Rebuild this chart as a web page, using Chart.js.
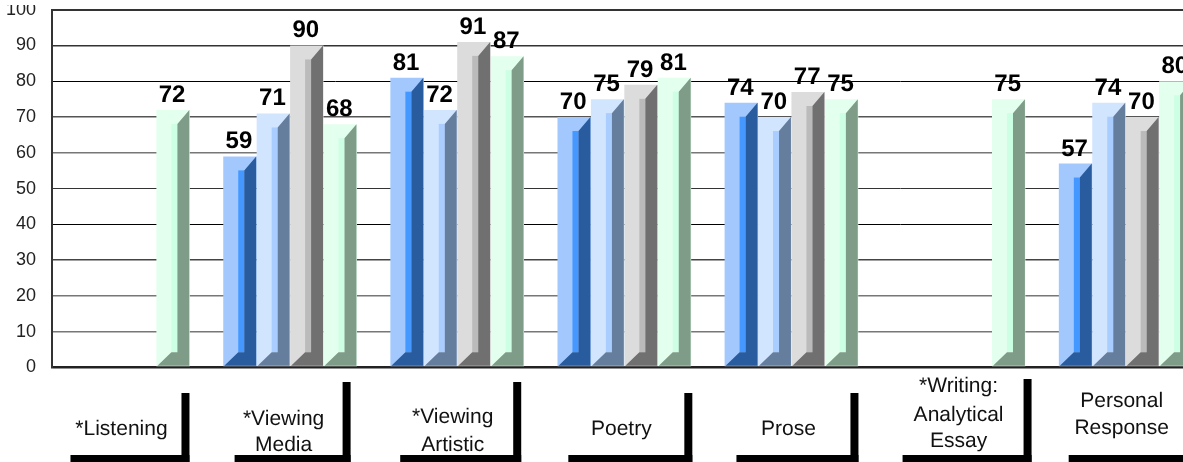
<!DOCTYPE html>
<html>
<head>
<meta charset="utf-8">
<style>
html,body{margin:0;padding:0;background:#fff;overflow:hidden;width:1183px;height:462px}
#wrap{position:absolute;left:0;top:5px;width:1183px;height:457px;overflow:hidden}
canvas{display:block}
</style>
<script src="https://cdn.jsdelivr.net/npm/chart.js@4"></script>
</head>
<body>
<div id="wrap"><canvas id="c" width="1183" height="457"></canvas></div>
<script>
const categories = [
  ["*Listening"],
  ["*Viewing","Media"],
  ["*Viewing","Artistic"],
  ["Poetry"],
  ["Prose"],
  ["*Writing:","Analytical","Essay"],
  ["Personal","Response"]
];
const series1 = [null,59,81,70,74,null,57];
const series2 = [null,71,72,75,70,null,74];
const series3 = [null,90,91,79,77,null,70];
const series4 = [72,68,87,81,75,75,80];
const yTicks = [0,10,20,30,40,50,60,70,80,90,100];

const lightColors = ["#A3C8FD","#D2E5FF","#DCDCDC","#E3FFEE"];
const midColors   = ["#4498FF","#A9CDFF","#BBBBBB","#CCFFE3"];
const darkColors  = ["#285C9E","#667E9E","#707070","#7F9C88"];

const gridColor = {0:"#222",10:"#777",20:"#777",30:"#444",40:"#000",50:"#333",60:"#777",70:"#555",80:"#000",90:"#333",100:"#333"};
const gridWidth = {0:2.5,10:1.5,20:1.5,30:1.5,40:1,50:1,60:1.5,70:1.5,80:1,90:1.5,100:2};

// label placement relative to each category's tick
const labelOffsetX = [-1.5,-6.5,-4.5,-3,-3,0,-4];
const labelBaselines = [[435],[425,451],[423,451],[435],[435],[392,421,447],[407,434]];
const bracketLeft  = [-52.5,-55.5,-57,-56,-55,-56,-57];
const bracketRight = [66.5,60.5,64,68,67,73,70];
const bracketTop   = [393,382,382,393,393,379,382];
const canvasTop = 5;

const x3dPlugin = {
  id:"x3d",
  afterDatasetsDraw(chart){
    const ctx = chart.ctx, a = chart.chartArea;
    ctx.save();
    ctx.beginPath();
    ctx.rect(a.left,0,a.right-a.left,chart.height);
    ctx.clip();
    chart.data.datasets.forEach((ds,di)=>{
      chart.getDatasetMeta(di).data.forEach((el,i)=>{
        if(ds.data[i].y===null) return;
        const l = el.x-el.width/2, r = el.x+el.width/2, t = el.y, b = el.base;
        ctx.fillStyle = midColors[di];
        ctx.fillRect(l+15,t+14,6,b-t-28);
        ctx.fillStyle = darkColors[di];
        ctx.beginPath();
        ctx.moveTo(l+21,t+14);
        ctx.lineTo(r-0.5,t);
        ctx.lineTo(r-0.5,b-0.5);
        ctx.lineTo(l+1,b-0.5);
        ctx.lineTo(l+15,b-14);
        ctx.lineTo(l+21,b-14);
        ctx.closePath();
        ctx.fill();
      });
    });
    ctx.restore();
    ctx.save();
    ctx.textRendering="geometricPrecision";
    ctx.fillStyle="#000";
    ctx.font='bold 24px "Liberation Sans", Arial, sans-serif';
    ctx.textAlign="center";
    ctx.textBaseline="alphabetic";
    chart.data.datasets.forEach((ds,di)=>{
      chart.getDatasetMeta(di).data.forEach((el,i)=>{
        const v = ds.data[i].y;
        if(v===null) return;
        ctx.fillText(String(v),el.x-1,el.y-8);
      });
    });
    // category labels and their brackets
    const xs = chart.scales.x;
    categories.forEach((lines,i)=>{
      const c = xs.getPixelForValue(i);
      const L = c+bracketLeft[i], R = c+bracketRight[i], T = bracketTop[i]-canvasTop, B = chart.height;
      ctx.fillStyle="#000";
      ctx.fillRect(L,455-canvasTop,R-L,B-(455-canvasTop));
      ctx.fillRect(R-8,T,8,B-T);
      ctx.fillStyle="#111";
      ctx.font='21px "Liberation Sans", Arial, sans-serif';
      lines.forEach((s,k)=>ctx.fillText(s,c+labelOffsetX[i],labelBaselines[i][k]-canvasTop));
    });
    ctx.restore();
  }
};

const mk = (arr,di)=>({
  label:"Series "+(di+1),
  data:arr.map((y,x)=>({x,y})),
  backgroundColor:lightColors[di],
  borderWidth:0,
  categoryPercentage:0.8,
  barPercentage:1
});

new Chart(document.getElementById("c"),{
  type:"bar",
  data:{
    datasets:[series1,series2,series3,series4].map(mk)
  },
  options:{
    responsive:false,
    animation:false,
    events:[],
    layout:{padding:{top:4.7,left:0,right:0,bottom:0}},
    plugins:{legend:{display:false},tooltip:{enabled:false},title:{display:false}},
    scales:{
      x:{
        type:"linear",
        offset:false,
        min:-0.4247,
        max:6.343,
        grid:{display:false,offset:false},
        border:{display:false},
        ticks:{display:false},
        afterBuildTicks(s){s.ticks=categories.map((_,i)=>({value:i}));},
        afterFit(s){s.height=94.5;s.paddingLeft=0;s.paddingRight=0;}
      },
      y:{
        min:0,max:100,
        afterBuildTicks(s){s.ticks=yTicks.map(v=>({value:v}));},
        border:{display:true,color:"#333",width:2},
        grid:{
          drawTicks:false,
          color:c=>gridColor[c.tick.value],
          lineWidth:c=>gridWidth[c.tick.value]
        },
        ticks:{
          color:"#222",
          padding:16,
          font:{family:'"Liberation Sans", Arial, sans-serif',size:18}
        },
        afterFit(s){s.width=52;s.paddingTop=0;s.paddingBottom=0;}
      }
    }
  },
  plugins:[x3dPlugin]
});
</script>
</body>
</html>
